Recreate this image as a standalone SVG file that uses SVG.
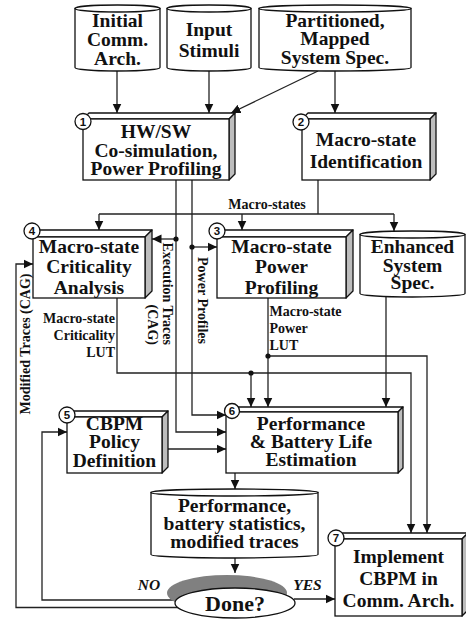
<svg xmlns="http://www.w3.org/2000/svg" width="466" height="625" viewBox="0 0 466 625">
<style>
  .bg{fill:#ffffff}
  .front{fill:#ffffff;stroke:#111;stroke-width:1.3}
  .top{fill:#ffffff;stroke:#111;stroke-width:1.3;stroke-linejoin:round}
  .side{fill:#bdbdbd;stroke:#111;stroke-width:1.3;stroke-linejoin:round}
  .cyl{fill:#ffffff;stroke:#111;stroke-width:1.3}
  .num{fill:#ffffff;stroke:#111;stroke-width:1.3}
  .numt{font-family:"Liberation Sans",Arial,sans-serif;font-weight:bold;font-size:11.5px;fill:#111;text-anchor:middle}
  .t{font-family:"Liberation Serif","Times New Roman",serif;font-weight:bold;font-size:19.5px;fill:#111;text-anchor:middle}
  .lbl{font-family:"Liberation Serif","Times New Roman",serif;font-weight:bold;font-size:14px;fill:#111}
  .yn{font-family:"Liberation Serif","Times New Roman",serif;font-weight:bold;font-style:italic;font-size:15.5px;fill:#111;text-anchor:middle}
  .done{font-family:"Liberation Serif","Times New Roman",serif;font-weight:bold;font-size:22px;fill:#111;text-anchor:middle}
  .ln{fill:none;stroke:#222;stroke-width:1.3}
  .arr{fill:none;stroke:#222;stroke-width:1.3;marker-end:url(#ah)}
  .dot{fill:#111}
</style>
<defs>
  <marker id="ah" markerUnits="userSpaceOnUse" markerWidth="10" markerHeight="10" refX="9.5" refY="5" orient="auto">
    <path d="M0,0.5 L9.5,5 L0,9.5 Z" fill="#111"/>
  </marker>
</defs>
<rect class="bg" x="0" y="0" width="466" height="625"/>

<!-- connectors -->
<g id="connectors">
  <path class="arr" d="M117,71 V113"/>
  <path class="arr" d="M209,71 V113"/>
  <path class="arr" d="M318,71 L231,113"/>
  <path class="arr" d="M335,71 V113"/>
  <!-- macro-states -->
  <path class="ln" d="M318,180 V214"/>
  <path class="ln" d="M99,214 H394"/>
  <path class="arr" d="M99,214 V230"/>
  <path class="arr" d="M242,214 V230"/>
  <path class="arr" d="M394,214 V231"/>
  <!-- execution traces -->
  <path class="arr" d="M176,180 V432 H226"/>
  <path class="arr" d="M176,239 H152"/>
  <circle class="dot" cx="176" cy="239" r="2.6"/>
  <!-- power profiles -->
  <path class="arr" d="M192,180 V415 H226"/>
  <path class="arr" d="M192,247 H217"/>
  <circle class="dot" cx="192" cy="247" r="2.6"/>
  <!-- criticality LUT -->
  <path class="arr" d="M117,298 V373 H411 V533"/>
  <path class="arr" d="M251,373 V407"/>
  <circle class="dot" cx="251" cy="373" r="2.6"/>
  <!-- power LUT -->
  <path class="arr" d="M268,298 V407"/>
  <path class="arr" d="M268,356 H427 V533"/>
  <circle class="dot" cx="268" cy="356" r="2.6"/>
  <!-- enhanced spec -->
  <path class="arr" d="M386,297 V407"/>
  <!-- policy -->
  <path class="arr" d="M168,449 H226"/>
  <!-- to stats -->
  <path class="arr" d="M235,473 V489"/>
  <path class="arr" d="M235,558 V573"/>
  <!-- yes -->
  <path class="arr" d="M294,599 H335"/>
  <!-- no loops -->
  <path class="arr" d="M185,600 H42 V432 H67"/>
  <path class="arr" d="M185,607.5 H16 V264 H33"/>
</g>

<!-- cylinders -->
<g id="init-arch">
  <path class="cyl" d="M75,8.5 V67.5 A42.5,3.5 0 0 0 160,67.5 V8.5 Z"/>
  <ellipse class="cyl" cx="117.5" cy="8.5" rx="42.5" ry="3.5"/>
  <text class="t" x="117.5" y="26.7">Initial</text>
  <text class="t" x="117.5" y="46">Comm.</text>
  <text class="t" x="117.5" y="65">Arch.</text>
</g>
<g id="input-stimuli">
  <path class="cyl" d="M167,8.5 V67.5 A42,3.5 0 0 0 251,67.5 V8.5 Z"/>
  <ellipse class="cyl" cx="209" cy="8.5" rx="42" ry="3.5"/>
  <text class="t" x="209" y="35.7">Input</text>
  <text class="t" x="209" y="57.3">Stimuli</text>
</g>
<g id="system-spec">
  <path class="cyl" d="M259,8.5 V67.5 A76,3.5 0 0 0 411,67.5 V8.5 Z"/>
  <ellipse class="cyl" cx="335" cy="8.5" rx="76" ry="3.5"/>
  <text class="t" x="335" y="26.7">Partitioned,</text>
  <text class="t" x="335" y="45">Mapped</text>
  <text class="t" x="335" y="64">System Spec.</text>
</g>
<g id="enhanced-spec">
  <path class="cyl" d="M360,234.5 V293.5 A52.5,3.5 0 0 0 465,293.5 V234.5 Z"/>
  <ellipse class="cyl" cx="412.5" cy="234.5" rx="52.5" ry="3.5"/>
  <text class="t" x="412.5" y="253">Enhanced</text>
  <text class="t" x="412.5" y="271.5">System</text>
  <text class="t" x="412.5" y="289">Spec.</text>
</g>
<g id="stats">
  <path class="cyl" d="M151,492.5 V554.5 A83.5,3.5 0 0 0 318,554.5 V492.5 Z"/>
  <ellipse class="cyl" cx="234.5" cy="492.5" rx="83.5" ry="3.5"/>
  <text class="t" x="234.5" y="511.7">Performance,</text>
  <text class="t" x="234.5" y="530">battery statistics,</text>
  <text class="t" x="234.5" y="548.3">modified traces</text>
</g>

<!-- box 1 -->
<g id="node1">
  <path class="top" d="M83,119 L89,113 L235,113 L229,119 Z"/>
  <path class="side" d="M229,119 L235,113 L235,174 L229,180 Z"/>
  <rect class="front" x="83" y="119" width="146" height="61"/>
  <circle class="num" cx="83" cy="121.5" r="8"/>
  <text class="numt" x="83" y="125.5">1</text>
  <text class="t" x="156" y="138">HW/SW</text>
  <text class="t" x="156" y="156.5">Co-simulation,</text>
  <text class="t" x="156" y="175">Power Profiling</text>
</g>
<!-- box 2 -->
<g id="node2">
  <path class="top" d="M302,119 L308,113 L436,113 L430,119 Z"/>
  <path class="side" d="M430,119 L436,113 L436,174 L430,180 Z"/>
  <rect class="front" x="302" y="119" width="128" height="61"/>
  <circle class="num" cx="301" cy="122" r="8"/>
  <text class="numt" x="301" y="126">2</text>
  <text class="t" x="366" y="146">Macro-state</text>
  <text class="t" x="366" y="168.3">Identification</text>
</g>
<!-- box 4 -->
<g id="node4">
  <path class="top" d="M33,237 L40,230 L152,230 L145,237 Z"/>
  <path class="side" d="M145,237 L152,230 L152,291 L145,298 Z"/>
  <rect class="front" x="33" y="237" width="112" height="61"/>
  <circle class="num" cx="32" cy="231" r="8"/>
  <text class="numt" x="32" y="235">4</text>
  <text class="t" x="89" y="252.5">Macro-state</text>
  <text class="t" x="89" y="273">Criticality</text>
  <text class="t" x="89" y="293.5">Analysis</text>
</g>
<!-- box 3 -->
<g id="node3">
  <path class="top" d="M217,237 L224,230 L353,230 L346,237 Z"/>
  <path class="side" d="M346,237 L353,230 L353,291 L346,298 Z"/>
  <rect class="front" x="217" y="237" width="129" height="61"/>
  <circle class="num" cx="217" cy="231" r="8"/>
  <text class="numt" x="217" y="235">3</text>
  <text class="t" x="281.5" y="252.5">Macro-state</text>
  <text class="t" x="281.5" y="273">Power</text>
  <text class="t" x="281.5" y="293.5">Profiling</text>
</g>
<!-- box 5 -->
<g id="node5">
  <path class="top" d="M67,417 L73,411 L168,411 L162,417 Z"/>
  <path class="side" d="M162,417 L168,411 L168,467 L162,473 Z"/>
  <rect class="front" x="67" y="417" width="95" height="56"/>
  <circle class="num" cx="67" cy="415" r="8"/>
  <text class="numt" x="67" y="419">5</text>
  <text class="t" x="114.5" y="430">CBPM</text>
  <text class="t" x="114.5" y="448.3">Policy</text>
  <text class="t" x="114.5" y="466.7">Definition</text>
</g>
<!-- box 6 -->
<g id="node6">
  <path class="top" d="M226,412 L231,407 L403,407 L398,412 Z"/>
  <path class="side" d="M398,412 L403,407 L403,468 L398,473 Z"/>
  <rect class="front" x="226" y="412" width="172" height="61"/>
  <circle class="num" cx="232" cy="411" r="7.5"/>
  <text class="numt" x="232" y="415">6</text>
  <text class="t" x="311" y="430">Performance</text>
  <text class="t" x="311" y="448.3">&amp; Battery Life</text>
  <text class="t" x="311" y="466">Estimation</text>
</g>
<!-- box 7 -->
<g id="node7">
  <path class="top" d="M335,539 L341,533 L468,533 L462,539 Z"/>
  <path class="side" d="M462,539 L468,533 L468,610 L462,616 Z"/>
  <rect class="front" x="335" y="539" width="127" height="77"/>
  <circle class="num" cx="336" cy="538" r="8"/>
  <text class="numt" x="336" y="542">7</text>
  <text class="t" x="398.5" y="563.3">Implement</text>
  <text class="t" x="398.5" y="585">CBPM in</text>
  <text class="t" x="398.5" y="607">Comm. Arch.</text>
</g>
<!-- decision -->
<g id="done">
  <ellipse cx="227" cy="593" rx="60" ry="18" fill="#808080"/>
  <ellipse cx="235" cy="603" rx="60" ry="15" fill="#ffffff" stroke="#111" stroke-width="1.3"/>
  <text class="done" x="235" y="611">Done?</text>
</g>

<!-- labels -->
<g id="labels">
  <text class="lbl" x="267" y="209" text-anchor="middle">Macro-states</text>
  <text class="lbl" x="115" y="323" text-anchor="end">Macro-state</text>
  <text class="lbl" x="115" y="340" text-anchor="end">Criticality</text>
  <text class="lbl" x="115" y="356.5" text-anchor="end">LUT</text>
  <text class="lbl" x="269.5" y="316">Macro-state</text>
  <text class="lbl" x="269.5" y="333">Power</text>
  <text class="lbl" x="269.5" y="350">LUT</text>
  <text class="lbl" transform="translate(163,345) rotate(90)" text-anchor="end">Execution Traces</text>
  <text class="lbl" transform="translate(148,345) rotate(90)" text-anchor="end">(CAG)</text>
  <text class="lbl" transform="translate(197.5,344) rotate(90)" text-anchor="end">Power Profiles</text>
  <text class="lbl" transform="translate(30,344) rotate(-90)" text-anchor="middle">Modified Traces (CAG)</text>
  <text class="yn" x="149" y="589.5">NO</text>
  <text class="yn" x="307.5" y="589.5">YES</text>
</g>
</svg>
